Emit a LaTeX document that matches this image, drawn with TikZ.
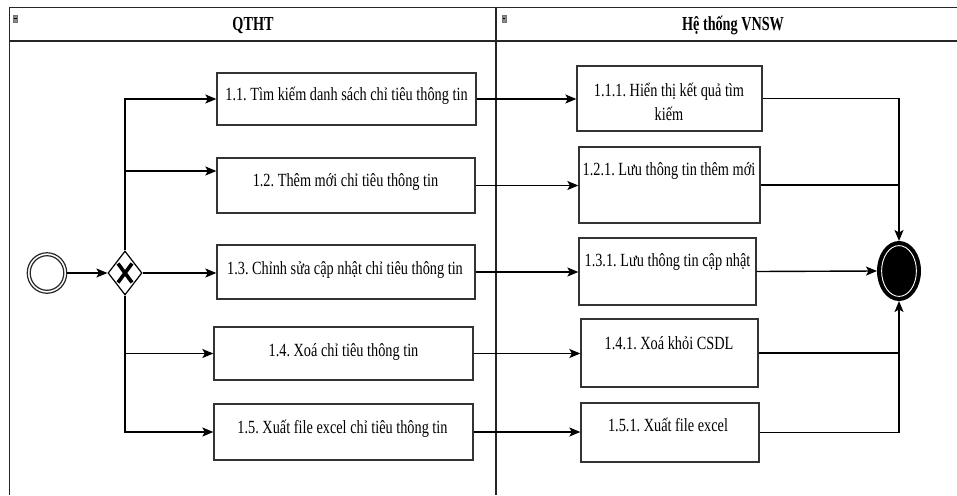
\documentclass[tikz,border=0pt]{standalone}
\usepackage{fontspec}
\usepackage{graphicx}
\setmainfont{Liberation Serif}
\usetikzlibrary{shapes.geometric,arrows.meta}
\newcommand{\stt}[1]{\scalebox{1}[1.3]{#1}}
\newcommand{\sth}[1]{\scalebox{1}[1.4]{#1}}
\frenchspacing
\begin{document}
\begin{tikzpicture}[x=1pt,y=-1pt,
  lane/.style={line width=1.3pt, draw=black!85},
  actbox/.style={draw=black!80, line width=1.3pt, rectangle, inner sep=0pt, fill=white},
  txt/.style={font=\fontsize{14.3}{24}\selectfont, inner sep=0pt, anchor=base},
  hdr/.style={font=\fontsize{14.2}{17}\selectfont\bfseries, inner sep=0pt, anchor=base},
  flow/.style={line width=1.4pt, -{Stealth[length=11pt,width=9pt,inset=2.5pt]}},
  plain/.style={line width=1.4pt},
  icon/.style={fill=black!45, draw=black!55, line width=0.5pt},
]
\useasboundingbox (0,0) rectangle (957,495);
\fill[white] (0,0) rectangle (957,495);

% pool / lanes
\draw[lane] (9.5,495) -- (9.5,7.3) -- (957,7.3);
\draw[lane] (9.5,41) -- (957,41);
\draw[lane] (496,7.3) -- (496,495);
\draw[icon] (13.3,15) rectangle (17.5,22.5);
\draw[black, line width=0.8pt] (14.2,18.7) -- (16.6,18.7);
\draw[icon] (502,15) rectangle (506.2,22.5);
\draw[black, line width=0.8pt] (502.9,18.7) -- (505.3,18.7);
\node[hdr] (h1) at (253,31) {\sth{QTHT}};
\node[hdr] (h2) at (733,31) {\sth{Hệ thống VNSW}};

% start, gateway, end
\node[ellipse, draw=black!85, line width=1.2pt, minimum width=39.5pt, minimum height=40.5pt, inner sep=0pt] (start) at (47,273) {};
\draw[black!85, line width=1.2pt] (start.center) ellipse [x radius=16.8, y radius=17.3];
\node[diamond, draw=black, line width=1.2pt, minimum width=34pt, minimum height=44pt, inner sep=0pt] (gw) at (125,273) {};
\draw[line width=3.6pt] ([shift={(-7,-9.5)}]gw.center) -- ([shift={(7,9.5)}]gw.center);
\draw[line width=3.6pt] ([shift={(7,-9.5)}]gw.center) -- ([shift={(-7,9.5)}]gw.center);
\node[ellipse, draw=black, fill=black, line width=4pt, minimum width=40pt, minimum height=56pt, inner sep=0pt] (endn) at (899,271) {};
\draw[white, line width=0.9pt] (endn.center) ellipse [x radius=17.4, y radius=25.4];

% left boxes
\node[actbox, minimum width=259pt, minimum height=52pt] (b11) at (346.5,99) {};
\node[actbox, minimum width=258pt, minimum height=55pt] (b12) at (346,185.5) {};
\node[actbox, minimum width=258pt, minimum height=54pt] (b13) at (346,272) {};
\node[actbox, minimum width=259pt, minimum height=53pt] (b14) at (343.5,353.5) {};
\node[actbox, minimum width=259pt, minimum height=56pt] (b15) at (343.5,432) {};
\node[txt] (t11) at (346.5,100.5) {\stt{1.1. Tìm kiếm danh sách chỉ tiêu thông tin}};
\node[txt] (t12) at (345.5,186.7) {\stt{1.2. Thêm mới chỉ tiêu thông tin}};
\node[txt] (t13) at (345,274.3) {\stt{1.3. Chỉnh sửa cập nhật chỉ tiêu thông tin}};
\node[txt] (t14) at (343.5,356) {\stt{1.4. Xoá chỉ tiêu thông tin}};
\node[txt] (t15) at (342.5,433) {\stt{1.5. Xuất file excel chỉ tiêu thông tin}};

% right boxes
\node[actbox, minimum width=185pt, minimum height=65pt] (r111) at (669.5,98.5) {};
\node[actbox, minimum width=181pt, minimum height=76pt] (r121) at (669.5,185) {};
\node[actbox, minimum width=177pt, minimum height=67pt] (r131) at (667.5,271.5) {};
\node[actbox, minimum width=177pt, minimum height=68pt] (r141) at (669.5,353) {};
\node[actbox, minimum width=178pt, minimum height=59pt] (r151) at (670,432.5) {};
\node[txt] (t111a) at (669,96) {\stt{1.1.1. Hiển thị kết quả tìm}};
\node[txt] (t111b) at (669,120.7) {\stt{kiếm}};
\node[txt] (t121) at (669,175) {\stt{1.2.1. Lưu thông tin thêm mới}};
\node[txt] (t131) at (667.5,266.7) {\stt{1.3.1. Lưu thông tin cập nhật}};
\node[txt] (t141) at (669,349) {\stt{1.4.1. Xoá khỏi CSDL}};
\node[txt] (t151) at (668,431.7) {\stt{1.5.1. Xuất file excel}};

% flows
\draw[flow] (start.east) -- (gw.west);
\draw[flow] (gw.north) |- (b11.west);
\draw[flow] (gw.north) |- ([yshift=14.5pt]b12.west);
\draw[flow] (gw.east) -- (gw.east -| b13.west);
\draw[flow] (gw.south) |- (b14.west);
\draw[flow] (gw.south) |- (b15.west);

\draw[flow] (b11.east) -- (b11.east -| r111.west);
\draw[flow] (b12.east) -- (b12.east -| r121.west);
\draw[flow] (b13.east) -- (b13.east -| r131.west);
\draw[flow] (b14.east) -- (b14.east -| r141.west);
\draw[flow] (b15.east) -- (b15.east -| r151.west);

\draw[flow] (r111.east) -| (endn.north);
\draw[plain] (r121.east) -- (r121.east -| endn.north);
\draw[flow] (r131.east) -- (endn.west);
\draw[plain] (r141.east) -- (r141.east -| endn.south);
\draw[flow] (r151.east) -| (endn.south);
\end{tikzpicture}
\end{document}
